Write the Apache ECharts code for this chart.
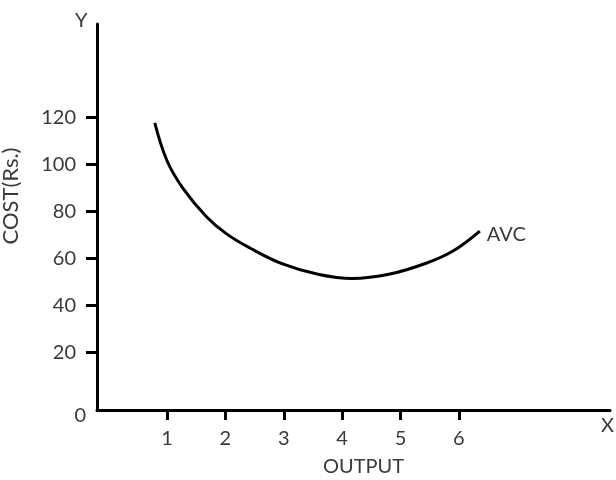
<!DOCTYPE html>
<html>
<head>
<meta charset="utf-8">
<script src="https://cdn.jsdelivr.net/npm/echarts@6/dist/echarts.min.js"></script>
<style>
html,body{margin:0;padding:0;background:#fff;}
#chart{width:616px;height:480px;}
</style>
</head>
<body>
<div id="chart"></div>
<script>
// Data
const outputValues = [0.79, 1.00, 1.27, 1.68, 2.02, 2.42, 2.98, 3.57, 4.17, 4.82, 5.45, 5.90, 6.36];
const avcValues    = [117.6, 101.5, 89.9, 77.6, 70.4, 64.4, 57.6, 53.3, 51.4, 53.3, 58.0, 63.1, 71.6];
const xTicks = [1, 2, 3, 4, 5, 6];
const yTicks = [20, 40, 60, 80, 100, 120];
const seriesName = 'AVC';
const xName = 'OUTPUT';
const yName = 'COST(Rs.)';

const X_MIN = -0.2, X_MAX = 8.59;
const Y_MIN = -4.55, Y_MAX = 159.7;

const FONT = 'Lato';
const TXT = '#3a3a3a';

const chart = echarts.init(document.getElementById('chart'));
chart.setOption({
  animation: false,
  backgroundColor: '#fff',
  grid: { left: 97, right: 6, top: 24, bottom: 70, containLabel: false, outerBoundsMode: 'none' },
  xAxis: [{
    type: 'value', min: X_MIN, max: X_MAX,
    axisLine: { show: true, onZero: false, lineStyle: { color: '#000', width: 3 } },
    axisTick: { show: true, length: 10, lineStyle: { color: '#000', width: 3 }, customValues: xTicks },
    axisLabel: { show: true, margin: 19, color: TXT, fontSize: 20, fontFamily: FONT, customValues: xTicks },
    splitLine: { show: false },
    name: xName, nameLocation: 'middle', nameGap: 47, nameMoveOverlap: false,
    nameTextStyle: { color: TXT, fontSize: 20, fontFamily: FONT, padding: [0, 0, 0, 20] }
  }, {
    type: 'value', min: X_MIN, max: X_MAX, position: 'bottom',
    axisLine: { show: false, onZero: false }, axisTick: { show: false }, axisLabel: { show: false }, splitLine: { show: false },
    name: 'X', nameLocation: 'end', nameGap: 4, nameMoveOverlap: false,
    nameTextStyle: { color: TXT, fontSize: 20, fontFamily: FONT, align: 'right', verticalAlign: 'top', padding: [6, 0, 0, 0] }
  }],
  yAxis: {
    type: 'value', min: Y_MIN, max: Y_MAX,
    axisLine: { show: true, onZero: false, lineStyle: { color: '#000', width: 3 } },
    axisTick: { show: true, length: 11, lineStyle: { color: '#000', width: 3 }, customValues: yTicks },
    axisLabel: {
      show: true, margin: 11, color: TXT, fontSize: 20, fontFamily: FONT,
      customValues: [Y_MIN].concat(yTicks),
      formatter: function (v) { return v === Y_MIN ? '{z|0}' : '{t|' + v + '}'; },
      rich: {
        z: { color: TXT, fontSize: 20, fontFamily: FONT, padding: [12, 0, 0, 0] },
        t: { color: TXT, fontSize: 20, fontFamily: FONT, padding: [0, 10, 0, 0] }
      }
    },
    splitLine: { show: false },
    name: yName, nameLocation: 'middle', nameGap: 75, nameMoveOverlap: false,
    nameTextStyle: { color: TXT, fontSize: 22, fontFamily: FONT, padding: [0, 0, 0, 42] }
  },
  graphic: [{
    type: 'text', left: 75, top: 11,
    style: { text: 'Y', fill: TXT, fontSize: 20, fontFamily: FONT }
  }],
  series: [{
    name: seriesName, type: 'line', smooth: 0.4, showSymbol: false,
    data: outputValues.map((x, i) => [x, avcValues[i]]),
    lineStyle: { color: '#000', width: 3 },
    itemStyle: { color: '#000' },
    endLabel: { show: true, formatter: seriesName, color: TXT, fontSize: 20, fontFamily: FONT, distance: 7, offset: [0, 4] }
  }]
});
</script>
</body>
</html>
